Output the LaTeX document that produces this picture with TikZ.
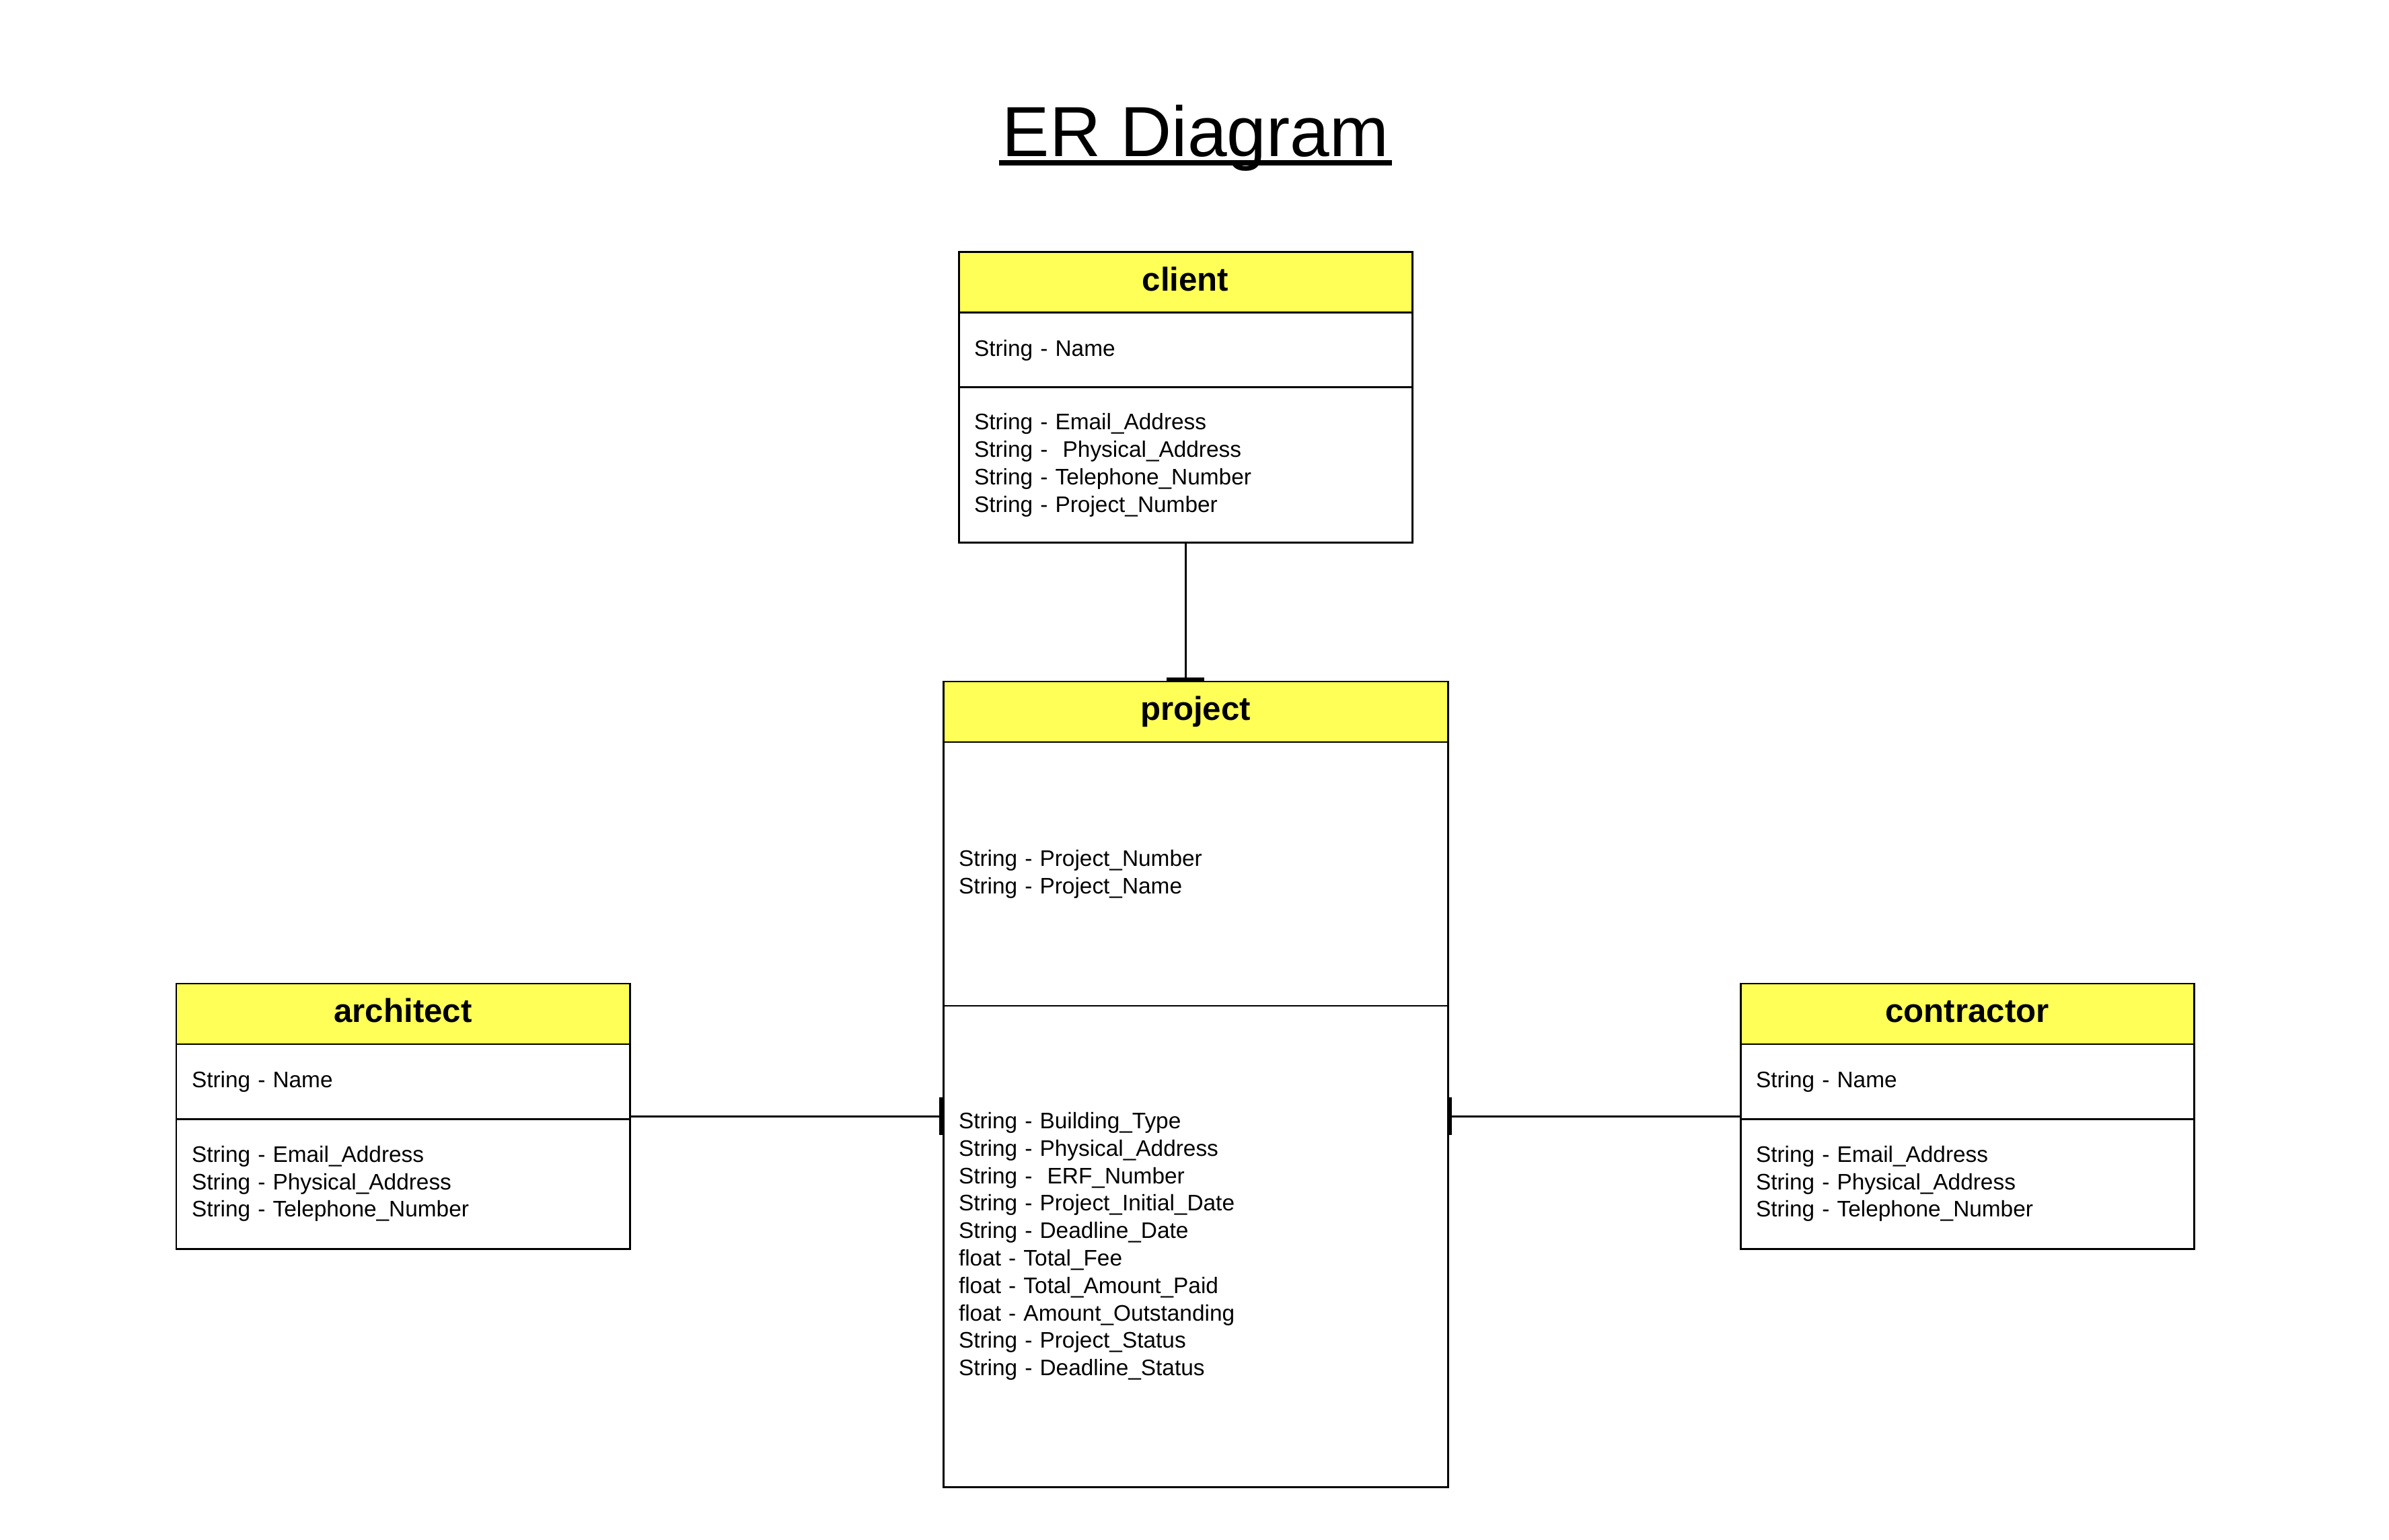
\documentclass[tikz,border=0pt]{standalone}
\usepackage{fontspec}
\setmainfont{Liberation Sans}
\usetikzlibrary{positioning,arrows.meta,calc}
\definecolor{headyellow}{RGB}{255,255,88}

\begin{document}
\begin{tikzpicture}[line width=0.85pt,>={Bar[width=5.6mm,line width=1.8pt]},
	head/.style={draw,fill=headyellow,minimum height=0.9cm,inner sep=0pt,outer sep=0pt,text height=10pt,text depth=3pt,font=\bfseries\fontsize{14}{17}\selectfont},
	sect/.style={draw,fill=white,align=left,inner xsep=0.23cm,inner ysep=0pt,outer sep=0pt,font=\fontsize{9.5}{11.6}\selectfont},
	narrow/.style={text width=6.28cm},
	wide/.style={text width=7.04cm}]
	\useasboundingbox (0,0) rectangle (35.51,22.88);
	% title
	\node[inner sep=1pt,anchor=base,font=\fontsize{30}{36}\selectfont] (title) at (17.77,20.55) {ER Diagram};
	\draw[line width=2.4pt] ([yshift=-0.09cm]title.base west) -- ([yshift=-0.09cm]title.base east);
	% client
	\node[head,minimum width=6.74cm,anchor=north] (client_head) at (17.62,19.13) {client};
	\node[sect,narrow,minimum height=1.11cm,below=0pt of client_head] (client_key) {String - Name};
	\node[sect,narrow,minimum height=2.31cm,below=0pt of client_key] (client_attr) {String - Email\_Address\\String - \ Physical\_Address\\String - Telephone\_Number\\String - Project\_Number};
	% project
	\node[head,minimum width=7.50cm,anchor=north] (project_head) at (17.77,12.75) {project};
	\node[sect,wide,minimum height=3.92cm,below=0pt of project_head] (project_key) {String - Project\_Number\\String - Project\_Name};
	\node[sect,wide,minimum height=7.15cm,below=0pt of project_key] (project_attr) {String - Building\_Type\\String - Physical\_Address\\String - \ ERF\_Number\\String - Project\_Initial\_Date\\String - Deadline\_Date\\float - Total\_Fee\\float - Total\_Amount\_Paid\\float - Amount\_Outstanding\\String - Project\_Status\\String - Deadline\_Status};
	% architect
	\node[head,minimum width=6.74cm,anchor=north] (architect_head) at (5.99,8.26) {architect};
	\node[sect,narrow,minimum height=1.11cm,below=0pt of architect_head] (architect_key) {String - Name};
	\node[sect,narrow,minimum height=1.93cm,below=0pt of architect_key] (architect_attr) {String - Email\_Address\\String - Physical\_Address\\String - Telephone\_Number};
	% contractor
	\node[head,minimum width=6.74cm,anchor=north] (contractor_head) at (29.24,8.26) {contractor};
	\node[sect,narrow,minimum height=1.11cm,below=0pt of contractor_head] (contractor_key) {String - Name};
	\node[sect,narrow,minimum height=1.93cm,below=0pt of contractor_key] (contractor_attr) {String - Email\_Address\\String - Physical\_Address\\String - Telephone\_Number};
	% relations
	\coordinate (architect_mid) at ($(architect_head.north east)!0.5!(architect_attr.south east)$);
	\coordinate (contractor_mid) at ($(contractor_head.north west)!0.5!(contractor_attr.south west)$);
	\draw[->] (client_attr.south) -- (client_attr.south |- project_head.north);
	\draw[->] (architect_mid) -- (architect_mid -| project_attr.west);
	\draw[->] (contractor_mid) -- (contractor_mid -| project_attr.east);
\end{tikzpicture}
\end{document}
